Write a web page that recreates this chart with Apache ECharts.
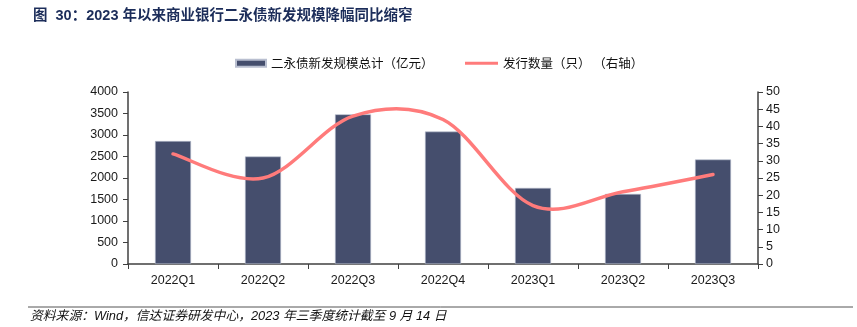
<!DOCTYPE html>
<html>
<head>
<meta charset="utf-8">
<script src="https://cdn.jsdelivr.net/npm/echarts@6/dist/echarts.min.js"></script>
<style>
html,body{margin:0;padding:0;background:#fff;}
#c{width:857px;height:327px;}
</style>
</head>
<body>
<div id="c"></div>
<script>
const categories = ['2022Q1','2022Q2','2022Q3','2022Q4','2023Q1','2023Q2','2023Q3'];
const issueAmount = [2860, 2500, 3480, 3080, 1770, 1630, 2430];
const issueCount = [32, 25, 43, 42, 17, 21, 26];
const leftTicks = [0, 500, 1000, 1500, 2000, 2500, 3000, 3500, 4000];
const rightTicks = [0, 5, 10, 15, 20, 25, 30, 35, 40, 45, 50];
const seriesNames = ['二永债新发规模总计（亿元）', '发行数量（只） （右轴）'];
const titleText = '图  30：2023 年以来商业银行二永债新发规模降幅同比缩窄';
const sourceText = '资料来源：Wind，信达证券研发中心，2023 年三季度统计截至 9 月 14 日';

const chart = echarts.init(document.getElementById('c'));
const axisColor = '#404040';
const lineColor = '#ff7b7b';
const labelFont = { color: '#1a1a1a', fontSize: 12.5, fontFamily: 'Liberation Sans, Arial, sans-serif' };

// Excel-like (Catmull-Rom) smoothed curve, points mapped via the chart's own axes
function renderCurve(params, api) {
  if (params.dataIndex !== 0) return null;
  const pts = issueCount.map((v, i) => api.coord([i, v]));
  let d = 'M' + pts[0][0] + ',' + pts[0][1];
  for (let i = 0; i < pts.length - 1; i++) {
    const p0 = pts[i - 1] || pts[i];
    const p1 = pts[i];
    const p2 = pts[i + 1];
    const p3 = pts[i + 2] || pts[i + 1];
    const c1x = p1[0] + (p2[0] - p0[0]) / 6, c1y = p1[1] + (p2[1] - p0[1]) / 6;
    const c2x = p2[0] - (p3[0] - p1[0]) / 6, c2y = p2[1] - (p3[1] - p1[1]) / 6;
    d += ' C' + c1x + ',' + c1y + ' ' + c2x + ',' + c2y + ' ' + p2[0] + ',' + p2[1];
  }
  return {
    type: 'path',
    shape: { pathData: d },
    style: { fill: 'none', stroke: lineColor, lineWidth: 3.5, lineCap: 'round' }
  };
}

chart.setOption({
  animation: false,
  title: {
    text: titleText, left: 28, top: 4,
    textStyle: { fontSize: 14.5, fontWeight: 'bold', color: '#1c2d5a', fontFamily: 'Liberation Sans, "Noto Sans CJK SC", sans-serif' }
  },
  legend: [
    { data: [{ name: seriesNames[0], icon: 'rect' }], left: 235, top: 57, padding: 0, itemWidth: 30, itemHeight: 7, itemGap: 4,
      textStyle: { fontSize: 12.5, color: '#111', fontFamily: '"Noto Sans CJK SC", sans-serif' } },
    { data: [{ name: seriesNames[1], icon: 'rect' }], left: 465, top: 57, padding: 0, itemWidth: 33, itemHeight: 3, itemGap: 4,
      textStyle: { fontSize: 12.5, color: '#111', fontFamily: '"Noto Sans CJK SC", sans-serif' } }
  ],
  grid: { left: 128, right: 99, top: 92, bottom: 63, containLabel: false },
  xAxis: {
    type: 'category', data: categories, boundaryGap: true,
    axisLine: { lineStyle: { color: axisColor, width: 1.5 } },
    axisTick: { show: true, length: 5, lineStyle: { color: axisColor } },
    axisLabel: Object.assign({ margin: 10 }, labelFont)
  },
  yAxis: [
    { type: 'value', min: leftTicks[0], max: leftTicks[leftTicks.length-1], interval: 500,
      axisLine: { show: true, lineStyle: { color: axisColor, width: 1.5 } },
      axisTick: { show: true, length: 5, lineStyle: { color: axisColor } },
      splitLine: { show: false },
      axisLabel: Object.assign({ margin: 10, formatter: v => String(v) }, labelFont) },
    { type: 'value', min: rightTicks[0], max: rightTicks[rightTicks.length-1], interval: 5, position: 'right',
      axisLine: { show: true, lineStyle: { color: axisColor, width: 1.5 } },
      axisTick: { show: true, length: 5, lineStyle: { color: axisColor } },
      splitLine: { show: false },
      axisLabel: Object.assign({ margin: 8, formatter: v => String(v) }, labelFont) }
  ],
  series: [
    { name: seriesNames[0], type: 'bar', data: issueAmount, yAxisIndex: 0, barWidth: 36,
      itemStyle: { color: '#454e6d', borderColor: '#b9bfd0', borderWidth: 0.6 } },
    { name: seriesNames[1], type: 'custom', data: issueCount.map((v, i) => [i, v]), yAxisIndex: 1,
      encode: { x: 0, y: 1 }, renderItem: renderCurve, itemStyle: { color: lineColor }, z: 3 }
  ],
  graphic: [
    { type: 'line', shape: { x1: 28, y1: 307, x2: 853, y2: 307 }, style: { stroke: '#555', lineWidth: 1 } },
    { type: 'text', left: 30, top: 310, style: { text: sourceText, fontSize: 12.8, fontStyle: 'italic', fill: '#111', fontFamily: 'Liberation Sans, "Noto Sans CJK SC", sans-serif' } }
  ]
});
</script>
</body>
</html>
